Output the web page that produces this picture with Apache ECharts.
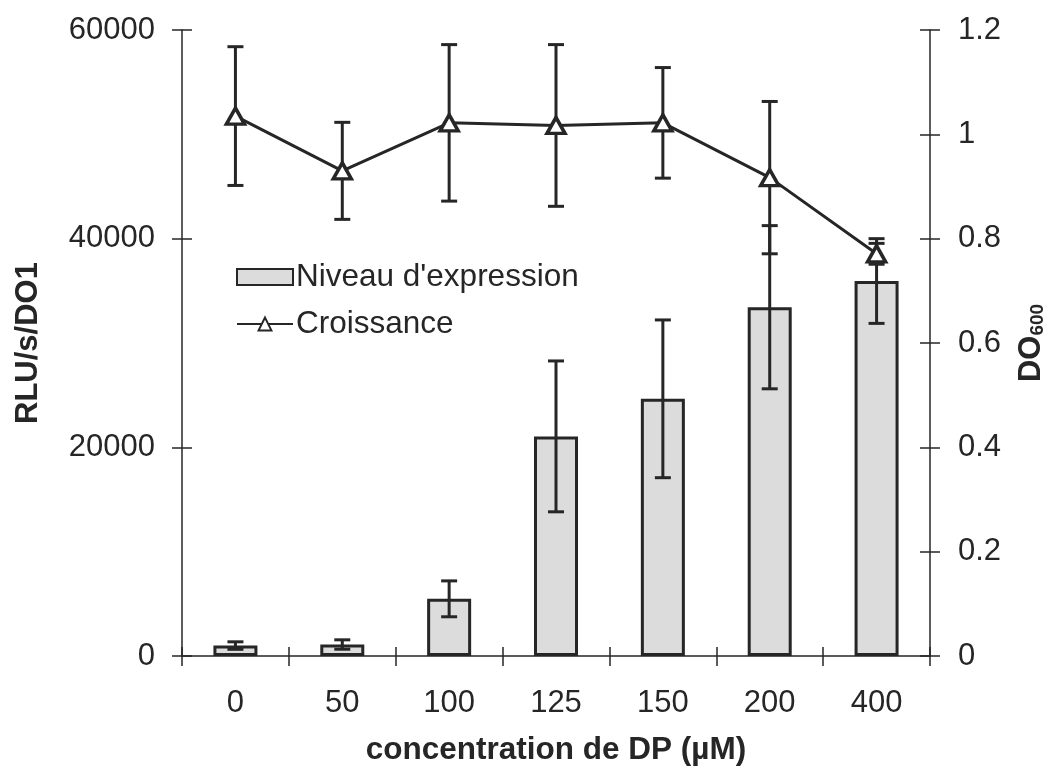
<!DOCTYPE html>
<html>
<head>
<meta charset="utf-8">
<script src="https://cdn.jsdelivr.net/npm/echarts@6/dist/echarts.min.js"></script>
<style>html,body{margin:0;padding:0;background:#fff}#c{width:1055px;height:776px}</style>
</head>
<body>
<div id="c"></div>
<script>
var categories = ['0', '50', '100', '125', '150', '200', '400'];
var expression = [1000, 1100, 5480, 21050, 24650, 33430, 35940];
var expressionErr = [360, 450, 1720, 7230, 7560, 7820, 4060];
var growth = [1.035, 0.930, 1.022, 1.017, 1.022, 0.917, 0.771];
var growthErr = [0.133, 0.093, 0.150, 0.155, 0.106, 0.146, 0.020];

var ink = '#262626';
var font = 'Liberation Sans, Arial, sans-serif';

function errRender(vals, errs) {
  return function (params, api) {
    var i = api.value(0);
    var v = vals[i], e = errs[i];
    var top = api.coord([i, v + e]);
    var bot = api.coord([i, v - e]);
    var x = top[0], hw = 8;
    var st = { stroke: ink, lineWidth: 3 };
    return {
      type: 'group',
      children: [
        { type: 'line', shape: { x1: x, y1: top[1], x2: x, y2: bot[1] }, style: st },
        { type: 'line', shape: { x1: x - hw, y1: top[1], x2: x + hw, y2: top[1] }, style: st },
        { type: 'line', shape: { x1: x - hw, y1: bot[1], x2: x + hw, y2: bot[1] }, style: st }
      ]
    };
  };
}

var chart = echarts.init(document.getElementById('c'), null, { renderer: 'canvas' });
var labelStyle = { color: ink, fontSize: 31, fontFamily: font };
function plain(v) { return String(v); }
chart.setOption({
  animation: false,
  backgroundColor: '#fff',
  grid: { left: 182, right: 124, top: 30, bottom: 120 },
  legend: {
    orient: 'vertical',
    left: 231, top: 256,
    itemWidth: 56, itemHeight: 16, itemGap: 15,
    textStyle: { color: ink, fontSize: 31.5, fontFamily: font, padding: [0, 0, 0, -2] },
    data: [{ name: "Niveau d'expression", icon: 'rect' }, { name: 'Croissance' }]
  },
  xAxis: [{
    type: 'category', data: categories, boundaryGap: true,
    name: 'concentration de DP (µM)', nameLocation: 'middle', nameGap: 78,
    nameTextStyle: { color: ink, fontSize: 31.5, fontWeight: 'bold', fontFamily: font },
    axisLine: { lineStyle: { color: ink, width: 1.5 } },
    axisTick: { show: true, alignWithLabel: false, length: 10, lineStyle: { color: ink, width: 1.5 } },
    axisLabel: Object.assign({ margin: 32 }, labelStyle),
    splitLine: { show: false }
  }, {
    type: 'category', data: categories, boundaryGap: true, position: 'bottom',
    axisLine: { show: false },
    axisTick: { show: true, inside: true, length: 9, lineStyle: { color: ink, width: 1.5 } },
    axisLabel: { show: false }, splitLine: { show: false }
  }],
  yAxis: [{
    type: 'value', min: 0, max: 60000, interval: 20000, position: 'left',
    name: 'RLU/s/DO1', nameLocation: 'middle', nameGap: 138, nameRotate: 90,
    nameTextStyle: { color: ink, fontSize: 31, fontWeight: 'bold', fontFamily: font },
    axisLine: { show: true, lineStyle: { color: ink, width: 1.5 } },
    axisTick: { show: true, length: 10, lineStyle: { color: ink, width: 1.5 } },
    axisLabel: Object.assign({ margin: 27, formatter: plain }, labelStyle),
    splitLine: { show: false }
  }, {
    type: 'value', min: 0, max: 1.2, interval: 0.2, position: 'right',
    name: '{a|DO}{b|600}', nameLocation: 'middle', nameGap: 86, nameRotate: 90,
    nameTextStyle: {
      color: ink, fontFamily: font,
      rich: {
        a: { fontSize: 31, fontWeight: 'bold', color: ink, fontFamily: font },
        b: { fontSize: 19, fontWeight: 'bold', color: ink, fontFamily: font, verticalAlign: 'bottom', padding: [12, 0, 0, 0] }
      }
    },
    axisLine: { show: true, lineStyle: { color: ink, width: 1.5 } },
    axisTick: { show: true, length: 10, lineStyle: { color: ink, width: 1.5 } },
    axisLabel: Object.assign({ margin: 28, formatter: plain }, labelStyle),
    splitLine: { show: false }
  }, {
    type: 'value', min: 0, max: 60000, interval: 20000, position: 'left',
    axisLine: { show: false },
    axisTick: { show: true, inside: true, length: 10, lineStyle: { color: ink, width: 1.5 } },
    axisLabel: { show: false }, splitLine: { show: false }
  }, {
    type: 'value', min: 0, max: 1.2, interval: 0.2, position: 'right',
    axisLine: { show: false },
    axisTick: { show: true, inside: true, length: 10, lineStyle: { color: ink, width: 1.5 } },
    axisLabel: { show: false }, splitLine: { show: false }
  }],
  series: [{
    name: "Niveau d'expression", type: 'bar', xAxisIndex: 0, yAxisIndex: 0,
    data: expression, barWidth: 44,
    itemStyle: { color: '#dcdcdc', borderColor: ink, borderWidth: 3 },
    z: 2
  }, {
    type: 'custom', xAxisIndex: 0, yAxisIndex: 0,
    data: expression.map(function (v, i) { return [i, v]; }),
    renderItem: errRender(expression, expressionErr), z: 3, silent: true
  }, {
    type: 'custom', xAxisIndex: 0, yAxisIndex: 1,
    data: growth.map(function (v, i) { return [i, v]; }),
    renderItem: errRender(growth, growthErr), z: 4, silent: true
  }, {
    name: 'Croissance', type: 'line', xAxisIndex: 0, yAxisIndex: 1,
    data: growth, symbol: 'triangle', symbolSize: [18, 16],
    lineStyle: { color: ink, width: 3 },
    itemStyle: { color: '#fff', borderColor: ink, borderWidth: 3.5 },
    z: 5
  }]
});
</script>
</body>
</html>
